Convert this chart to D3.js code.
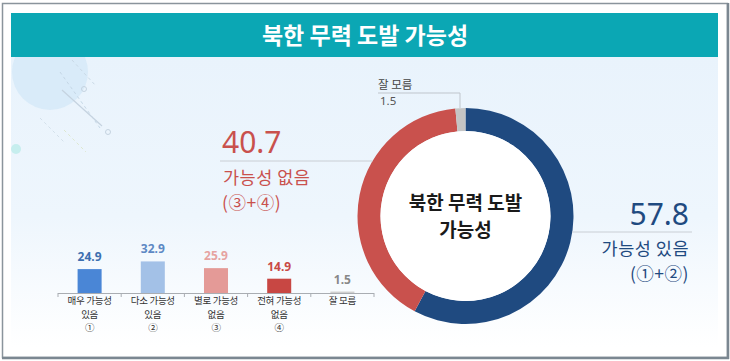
<!DOCTYPE html>
<html><head><meta charset="utf-8">
<script src="https://cdn.jsdelivr.net/npm/d3@7"></script>
<style>
html,body{margin:0;padding:0;background:#fff;}
svg{display:block;font-family:"Noto Sans CJK KR","Noto Sans",sans-serif;}
</style></head>
<body>
<svg id="c" width="730" height="361"></svg>
<script>
const title = "북한 무력 도발 가능성";
const donutLabels = ["가능성 있음", "가능성 없음", "잘 모름"];
const donutValues = [57.8, 40.7, 1.5];
const donutSub = ["(①+②)", "(③+④)", ""];
const barCategories = [["매우 가능성","있음","①"],["다소 가능성","있음","②"],["별로 가능성","없음","③"],["전혀 가능성","없음","④"],["잘 모름"]];
const barValues = [24.9, 32.9, 25.9, 14.9, 1.5];

const donutColors = ["#1f4a80", "#c9514d", "#c4c4c4"];
const barColors = ["#4a86d6", "#a3c1e7", "#e49a97", "#c84743", "#cfcfcf"];
const barLabelColors = ["#3d6fb0", "#5d88c4", "#e6a3a1", "#c94a46", "#888888"];

const svg = d3.select("#c");
const defs = svg.append("defs");
const g1 = defs.append("linearGradient").attr("id","bg").attr("x1",0).attr("y1",0).attr("x2",0).attr("y2",1);
g1.append("stop").attr("offset","0%").attr("stop-color","#e9f3fc");
g1.append("stop").attr("offset","55%").attr("stop-color","#eef6fd");
g1.append("stop").attr("offset","100%").attr("stop-color","#ffffff");

// frame
svg.append("rect").attr("x",0).attr("y",0).attr("width",730).attr("height",361).attr("fill","#fff");
svg.append("rect").attr("x",11).attr("y",57).attr("width",707).attr("height",290).attr("fill","url(#bg)");

// decoration
const deco = svg.append("g");
deco.append("circle").attr("cx",50).attr("cy",72).attr("r",38).attr("fill","#d4e9f8").attr("opacity",0.8);
deco.append("circle").attr("cx",16).attr("cy",149).attr("r",5).attr("fill","#c6eeee");
[[60,72,100,128,"#c5d7e6"],[72,60,96,86,"#c9d9e6"],[40,118,64,142,"#d3e0ea"],[64,130,86,152,"#dde7cf"]].forEach(d=>{
  deco.append("line").attr("x1",d[0]).attr("y1",d[1]).attr("x2",d[2]).attr("y2",d[3]).attr("stroke",d[4]).attr("stroke-width",1).attr("stroke-dasharray","3,3");
});
deco.append("line").attr("x1",62).attr("y1",90).attr("x2",102).attr("y2",126).attr("stroke","#c5d3e0").attr("stroke-width",1.2);
deco.append("circle").attr("cx",108).attr("cy",132).attr("r",2.5).attr("fill","none").attr("stroke","#c5d3e0");
deco.append("circle").attr("cx",84).attr("cy",89).attr("r",2.5).attr("fill","none").attr("stroke","#c5d3e0");

// title band
svg.append("rect").attr("x",11).attr("y",13).attr("width",707).attr("height",44).attr("fill","#0ba7b4");
svg.append("text").attr("x",365).attr("y",44).attr("text-anchor","middle").attr("fill","#fff")
  .attr("font-size",23).attr("font-weight",700).text(title);

// outer border
svg.append("rect").attr("x",2.5).attr("y",3.5).attr("width",725).attr("height",354).attr("fill","none").attr("stroke","#8a949c").attr("stroke-width",1.5);
svg.append("line").attr("x1",728).attr("y1",3).attr("x2",728).attr("y2",359).attr("stroke","#7b8791").attr("stroke-width",2.5);
svg.append("line").attr("x1",2).attr("y1",358).attr("x2",729).attr("y2",358).attr("stroke","#7b8791").attr("stroke-width",2.5);

// donut
const cx = 465.5, cy = 216, R = 108, r = 85;
const pie = d3.pie().sort(null).value(d=>d)(donutValues);
const arc = d3.arc().innerRadius(r).outerRadius(R);
const dg = svg.append("g").attr("transform",`translate(${cx},${cy})`);
dg.selectAll("path").data(pie).join("path").attr("d",arc).attr("fill",(d,i)=>donutColors[i]);
dg.append("circle").attr("r",r).attr("fill","#fff");
const ct = dg.append("text").attr("text-anchor","middle").attr("font-size",19).attr("font-weight",700).attr("fill","#1a1a1a");
ct.append("tspan").attr("x",0).attr("y",-6).text("북한 무력 도발");
ct.append("tspan").attr("x",0).attr("y",21).text("가능성");

// callouts
const ly = 161;
const lx2 = cx - Math.sqrt(R*R - (ly-cy)*(ly-cy));
svg.append("line").attr("x1",220).attr("y1",ly).attr("x2",lx2).attr("y2",ly).attr("stroke","#c9ced4").attr("stroke-width",1);
svg.append("text").attr("x",222).attr("y",153).attr("font-size",30).attr("fill",donutColors[1]).attr("font-family","Noto Sans, sans-serif").text(donutValues[1].toFixed(1));
const lt = svg.append("text").attr("font-size",17.5).attr("letter-spacing",0.5).attr("fill",donutColors[1]);
lt.append("tspan").attr("x",223).attr("y",184).text(donutLabels[1]);
lt.append("tspan").attr("x",222).attr("y",209).text(donutSub[1]);

const ry = 232;
const rx1 = cx + Math.sqrt(R*R - (ry-cy)*(ry-cy));
svg.append("line").attr("x1",rx1).attr("y1",ry).attr("x2",692).attr("y2",ry).attr("stroke","#c9ced4").attr("stroke-width",1);
svg.append("text").attr("x",689).attr("y",225).attr("text-anchor","end").attr("font-size",30).attr("fill",donutColors[0]).attr("font-family","Noto Sans, sans-serif").text(donutValues[0].toFixed(1));
const rt = svg.append("text").attr("text-anchor","end").attr("font-size",17.5).attr("letter-spacing",0.5).attr("fill",donutColors[0]);
rt.append("tspan").attr("x",689).attr("y",255).text(donutLabels[0]);
rt.append("tspan").attr("x",689).attr("y",280).text(donutSub[0]);

svg.append("polyline").attr("points","378,93 460,93 460,108").attr("fill","none").attr("stroke","#bfc5cc").attr("stroke-width",1);
svg.append("text").attr("x",378).attr("y",89).attr("font-size",11.5).attr("fill","#444").text(donutLabels[2]);
svg.append("text").attr("x",380).attr("y",105).attr("font-size",11.5).attr("fill","#555").attr("font-family","Noto Sans, sans-serif").text(donutValues[2].toFixed(1));

// bar chart
const x = d3.scaleBand().domain(barCategories.map(c=>c.join(" "))).range([58,374]).paddingInner(0.62).paddingOuter(0.31);
const y = d3.scaleLinear().domain([0,40]).range([293,254.6]);
const bg = svg.append("g");
const step = x.step();
bg.append("line").attr("x1",58).attr("x2",374).attr("y1",293.5).attr("y2",293.5).attr("stroke","#a9adb2");
d3.range(6).forEach(i=>{
  const tx = 58 + i*step;
  bg.append("line").attr("x1",tx).attr("x2",tx).attr("y1",293).attr("y2",297).attr("stroke","#a9adb2");
});
barCategories.forEach((c,i)=>{
  const key = c.join(" ");
  const bx = x(key), bw = x.bandwidth();
  bg.append("rect").attr("x",bx).attr("width",bw).attr("y",y(barValues[i])).attr("height",293-y(barValues[i])).attr("fill",barColors[i]);
  bg.append("text").attr("x",bx+bw/2).attr("y",y(barValues[i])-8).attr("text-anchor","middle")
    .attr("font-size",12).attr("font-weight",700).attr("fill",barLabelColors[i]).attr("font-family","Noto Sans, sans-serif").text(barValues[i].toFixed(1));
  const tt = bg.append("text").attr("text-anchor","middle").attr("font-size",9.5).attr("letter-spacing",-0.3).attr("fill","#333");
  c.forEach((t,j)=>{
    tt.append("tspan").attr("x",bx+bw/2).attr("y",304+j*13.5).text(t);
  });
});
</script>
</body></html>
